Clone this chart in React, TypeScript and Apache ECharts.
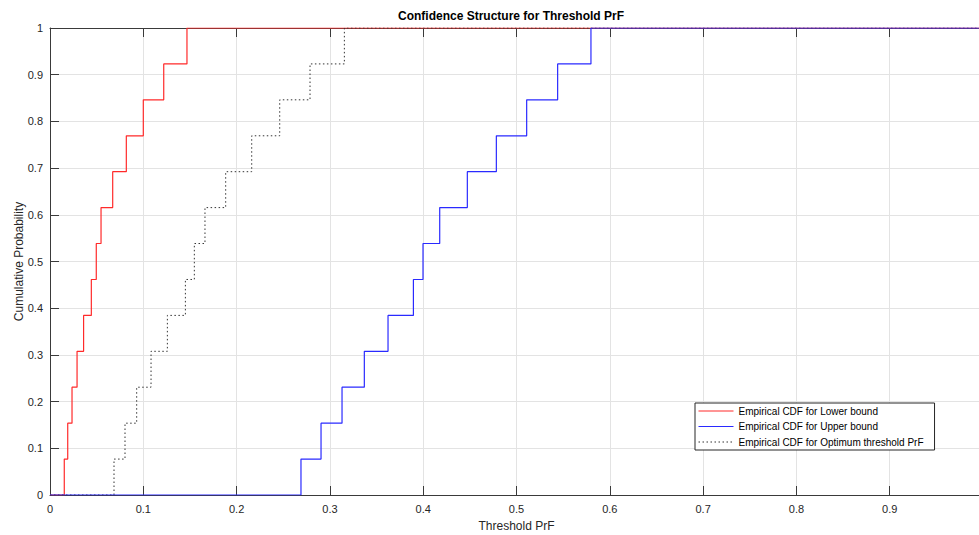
import React, { useEffect, useRef } from "react";
import * as echarts from "echarts";

// Sample values (x positions of each CDF step)
const lowerBound = [0.0153, 0.019, 0.0236, 0.029, 0.036, 0.0443, 0.0496, 0.0547, 0.0672, 0.0818, 0.1, 0.1219, 0.1468];
const upperBound = [0.269, 0.2905, 0.313, 0.3369, 0.3623, 0.3895, 0.3998, 0.4177, 0.4473, 0.4784, 0.5109, 0.5441, 0.5798];
const optimum = [0.0686, 0.0804, 0.0929, 0.1083, 0.1258, 0.1451, 0.1547, 0.1661, 0.1883, 0.2162, 0.2462, 0.2787, 0.3155];
// Cumulative probability level reached at each step
const cumulativeProb = [0.0769, 0.1538, 0.2308, 0.3077, 0.3846, 0.4615, 0.5385, 0.6154, 0.6923, 0.7692, 0.8462, 0.9231, 1];

const seriesNames = [
  "Empirical CDF for Lower bound",
  "Empirical CDF for Upper bound",
  "Empirical CDF for Optimum threshold PrF",
];

const FONT = "'Liberation Sans', Arial, Helvetica, sans-serif";

function toSteps(vals: number[]): number[][] {
  const pts: number[][] = [[0, 0]];
  vals.forEach((v, i) => pts.push([v, cumulativeProb[i]]));
  pts.push([1, 1]);
  return pts;
}

export default function App() {
  const ref = useRef<HTMLDivElement>(null);
  useEffect(() => {
    document.body.style.margin = "0";
    const chart = echarts.init(ref.current!, null, { renderer: "svg" });
    const axisColor = "#3a3a3a";
    const labelStyle = { color: "#262626", fontSize: 11, fontFamily: FONT };
    chart.setOption({
      animation: false,
      backgroundColor: "#ffffff",
      title: {
        text: "Confidence Structure for Threshold PrF",
        left: 393,
        top: 5,
        textStyle: { fontSize: 12, fontWeight: "bold", color: "#000", fontFamily: FONT },
      },
      grid: { left: 50, top: 28, right: -4, bottom: 40, containLabel: false, outerBoundsMode: "none" },
      legend: {
        orient: "vertical",
        left: 695,
        top: 403,
        data: seriesNames,
        backgroundColor: "#ffffff",
        borderColor: "#262626",
        borderWidth: 1,
        borderRadius: 0,
        padding: [2, 11, 2, 3],
        itemWidth: 35,
        itemHeight: 10,
        itemGap: 3.5,
        itemStyle: { opacity: 0 },
        lineStyle: { width: 1 },
        textStyle: { fontSize: 10, color: "#000", fontFamily: FONT, lineHeight: 12 },
      },
      xAxis: [
        {
          type: "value",
          min: 0,
          max: 1,
          interval: 0.1,
          name: "Threshold PrF",
          nameLocation: "middle",
          nameGap: 25,
          nameMoveOverlap: false,
          nameTextStyle: { fontSize: 12, color: "#262626", fontFamily: FONT },
          axisLine: { show: true, lineStyle: { color: axisColor, width: 1 } },
          axisTick: { show: true, inside: true, length: 9, lineStyle: { color: axisColor } },
          axisLabel: { ...labelStyle, margin: 8, showMaxLabel: false },
          splitLine: { show: true, lineStyle: { color: "#e3e3e3", width: 1 } },
        },
        {
          type: "value",
          position: "top",
          min: 0,
          max: 1,
          interval: 0.1,
          axisLine: { show: true, onZero: false, lineStyle: { color: axisColor, width: 1 } },
          axisTick: { show: true, inside: true, length: 9, lineStyle: { color: axisColor } },
          axisLabel: { show: false },
          splitLine: { show: false },
        },
      ],
      yAxis: {
        type: "value",
        min: 0,
        max: 1,
        interval: 0.1,
        name: "Cumulative Probability",
        nameLocation: "middle",
        nameGap: 25,
        nameMoveOverlap: false,
        nameTextStyle: { fontSize: 12, color: "#262626", fontFamily: FONT },
        axisLine: { show: true, lineStyle: { color: axisColor, width: 1 } },
        axisTick: { show: true, inside: true, length: 9, lineStyle: { color: axisColor } },
        axisLabel: { ...labelStyle, margin: 7 },
        splitLine: { show: true, lineStyle: { color: "#e3e3e3", width: 1 } },
      },
      series: [
        {
          name: seriesNames[0],
          type: "line",
          step: "end",
          symbol: "none",
          data: toSteps(lowerBound),
          lineStyle: { color: "#ff2a2a", width: 1.2 },
          itemStyle: { color: "#ff2a2a" },
          z: 2,
        },
        {
          name: seriesNames[2],
          type: "line",
          step: "end",
          symbol: "none",
          data: toSteps(optimum),
          lineStyle: { color: "#333333", width: 1, type: [1.5, 2.5] },
          itemStyle: { color: "#333333" },
          z: 3,
        },
        {
          name: seriesNames[1],
          type: "line",
          step: "end",
          symbol: "none",
          data: toSteps(upperBound),
          lineStyle: { color: "#2a2aff", width: 1.2 },
          itemStyle: { color: "#2a2aff" },
          z: 4,
        },
      ],
    });
    return () => chart.dispose();
  }, []);
  return (
    <div
      ref={ref}
      style={{ position: "fixed", left: 0, top: 0, width: 979, height: 535 }}
    />
  );
}
